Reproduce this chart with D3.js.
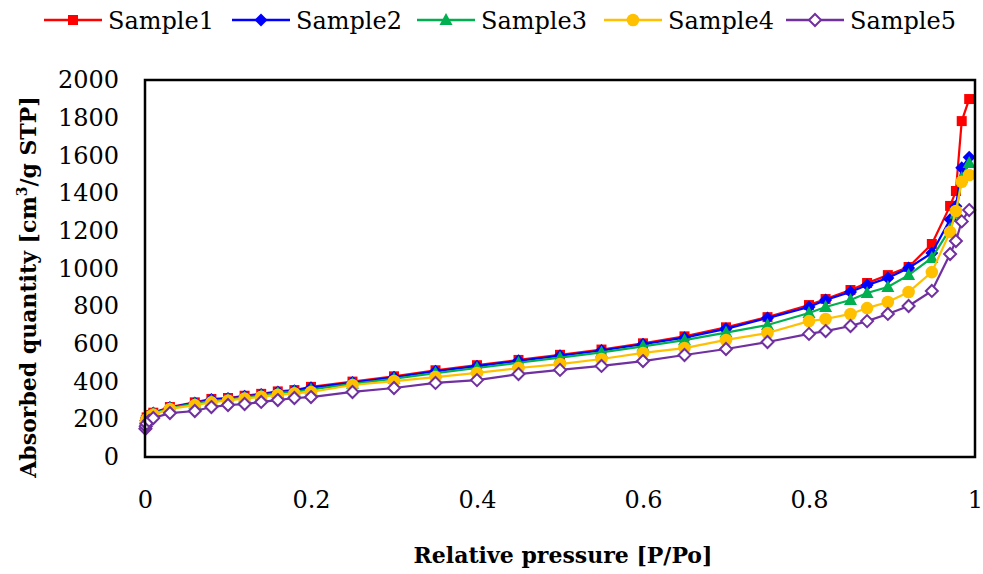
<!DOCTYPE html>
<html>
<head>
<meta charset="utf-8">
<script src="https://cdnjs.cloudflare.com/ajax/libs/d3/7.8.5/d3.min.js"></script>
<style>
  body { margin: 0; background: #fff; }
</style>
</head>
<body>
<script>
var width = 983;
var height = 574;
var serif = "DejaVu Serif";

// relative pressure P/Po (shared by every sample)
var pressure = [0.0005, 0.001, 0.002, 0.005, 0.01, 0.03, 0.06, 0.08, 0.1, 0.12, 0.14, 0.16, 0.18, 0.2,
  0.25, 0.3, 0.35, 0.4, 0.45, 0.5, 0.55, 0.6, 0.65, 0.7, 0.75,
  0.8, 0.82, 0.85, 0.87, 0.895, 0.92, 0.948, 0.97, 0.977, 0.984, 0.993];

var sample1 = [180, 195, 210, 222, 235, 265, 290, 308, 313, 325, 335, 348, 355, 372,
  400, 428, 460, 487, 515, 542, 570, 603, 640, 688, 742,
  806, 838, 886, 923, 965, 1008, 1130, 1332, 1411, 1782, 1899];
var sample2 = [178, 193, 208, 220, 233, 262, 287, 305, 310, 322, 332, 345, 352, 368,
  395, 423, 455, 482, 510, 537, 565, 598, 633, 680, 737,
  796, 833, 875, 912, 950, 1003, 1082, 1260, 1330, 1535, 1590];
var sample3 = [175, 190, 205, 218, 230, 260, 283, 298, 305, 316, 326, 340, 346, 358,
  388, 415, 445, 472, 500, 527, 555, 587, 620, 660, 700,
  764, 796, 833, 870, 902, 965, 1056, 1210, 1290, 1480, 1560];
var sample4 = [170, 185, 200, 213, 225, 255, 275, 290, 300, 310, 320, 330, 338, 345,
  382, 403, 424, 446, 472, 493, 520, 552, 578, 621, 658,
  721, 732, 759, 790, 822, 875, 981, 1194, 1305, 1460, 1496];
var sample5 = [150, 163, 177, 192, 207, 233, 244, 265, 276, 281, 292, 302, 313, 318,
  345, 366, 393, 408, 440, 462, 483, 509, 541, 573, 610,
  653, 668, 695, 721, 759, 801, 881, 1077, 1146, 1250, 1310];

var names = ["Sample1", "Sample2", "Sample3", "Sample4", "Sample5"];
var colors = ["#ff0000", "#0000ff", "#00b050", "#ffc000", "#7030a0"];
var shapes = ["square", "diamond", "triangle", "circle", "hollow"];
var xTicks = [0, 0.2, 0.4, 0.6, 0.8, 1];
var yTicks = [0, 200, 400, 600, 800, 1000, 1200, 1400, 1600, 1800, 2000];

var series = [sample1, sample2, sample3, sample4, sample5].map(function(vals, i) {
  return {
    name: names[i], color: colors[i], shape: shapes[i],
    points: vals.map(function(v, j) { return { x: pressure[j], y: v }; })
  };
});

var plot = { left: 145, right: 975, top: 80, bottom: 457 };

var x = d3.scaleLinear().domain([0, 1]).range([plot.left, plot.right]);
var y = d3.scaleLinear().domain([0, 2000]).range([plot.bottom, plot.top]);

var svg = d3.select("body").append("svg")
    .attr("width", width)
    .attr("height", height)
    .attr("font-family", serif);

// marker path for each shape
function markerPath(shape) {
  if (shape == "square") return "M-5,-5L5,-5L5,5L-5,5Z";
  if (shape == "diamond") return "M0,-6.5L6.5,0L0,6.5L-6.5,0Z";
  if (shape == "triangle") return "M0,-7L6.5,5L-6.5,5Z";
  if (shape == "circle") return d3.symbol(d3.symbolCircle, Math.PI * 6.3 * 6.3)();
  return "M0,-6L6,0L0,6L-6,0Z";
}

function drawMarker(g, s) {
  var hollow = s.shape == "hollow";
  g.append("path")
      .attr("d", markerPath(s.shape))
      .attr("fill", hollow ? "#fff" : s.color)
      .attr("stroke", s.color)
      .attr("stroke-width", hollow ? 2 : 0);
}

// axis tick labels
svg.append("g")
    .attr("transform", "translate(0," + (plot.bottom + 43) + ")")
    .call(d3.axisBottom(x).tickValues(xTicks).tickSize(0).tickFormat(d3.format("")))
    .call(function(g) {
      g.attr("font-family", serif);
      g.select(".domain").remove();
      g.selectAll("text").attr("font-size", 24).attr("fill", "#000").attr("dy", "0.35em").attr("y", 0);
    });

svg.append("g")
    .attr("transform", "translate(" + (plot.left - 26) + ",0)")
    .call(d3.axisLeft(y).tickValues(yTicks).tickSize(0).tickFormat(d3.format("d")))
    .call(function(g) {
      g.attr("font-family", serif);
      g.select(".domain").remove();
      g.selectAll("text").attr("font-size", 24).attr("fill", "#000").attr("x", 0);
    });

// series lines
var line = d3.line()
    .x(function(d) { return x(d.x); })
    .y(function(d) { return y(d.y); });

series.forEach(function(s) {
  var g = svg.append("g");
  g.append("path")
      .datum(s.points)
      .attr("d", line)
      .attr("fill", "none")
      .attr("stroke", s.color)
      .attr("stroke-width", 2.2);
  g.selectAll("g.pt")
    .data(s.points)
    .enter().append("g")
      .attr("class", "pt")
      .attr("transform", function(d) { return "translate(" + x(d.x) + "," + y(d.y) + ")"; })
      .each(function() { drawMarker(d3.select(this), s); });
});

// frame
svg.append("rect")
    .attr("x", plot.left)
    .attr("y", plot.top)
    .attr("width", plot.right - plot.left)
    .attr("height", plot.bottom - plot.top)
    .attr("fill", "none")
    .attr("stroke", "#000")
    .attr("stroke-width", 2.5);

// axis titles
svg.append("text")
    .attr("x", 563)
    .attr("y", 563)
    .attr("text-anchor", "middle")
    .attr("font-size", 22)
    .attr("font-weight", "bold")
    .text("Relative pressure [P/Po]");

var yt = svg.append("text")
    .attr("transform", "translate(36,287) rotate(-90)")
    .attr("text-anchor", "middle")
    .attr("font-size", 22)
    .attr("font-weight", "bold");
yt.append("tspan").text("Absorbed quantity [cm");
yt.append("tspan").attr("font-size", 14).attr("dy", -9).text("3");
yt.append("tspan").attr("dy", 9).text("/g STP]");

// legend
var legendX = [44, 232, 417, 604, 786];
series.forEach(function(s, i) {
  var g = svg.append("g").attr("transform", "translate(" + legendX[i] + ",20)");
  g.append("line")
      .attr("x1", 0).attr("x2", 58)
      .attr("stroke", s.color)
      .attr("stroke-width", 2.5);
  var m = g.append("g").attr("transform", "translate(29,0)");
  drawMarker(m, s);
  g.append("text")
      .attr("x", 64)
      .attr("y", 9)
      .attr("font-size", 24)
      .text(s.name);
});
</script>
</body>
</html>
